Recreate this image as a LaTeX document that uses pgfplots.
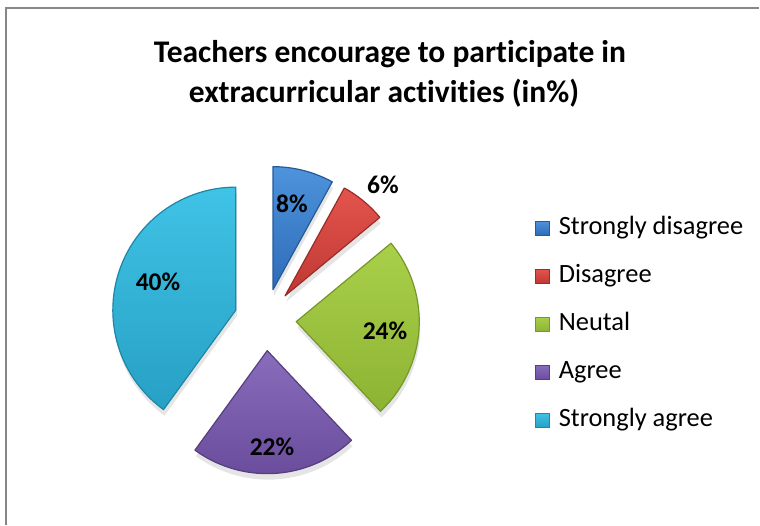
\documentclass[border=0pt]{standalone}
\usepackage{fontspec}
\setmainfont{Carlito}[Ligatures=NoCommon]
\usepackage{pgfplots}
\pgfplotsset{compat=1.18}
\definecolor{sdL}{HTML}{4E93DC}\definecolor{sdD}{HTML}{2E6BB8}\definecolor{sdE}{HTML}{245A9A}
\definecolor{dL}{HTML}{E4544E}\definecolor{dD}{HTML}{BF3833}\definecolor{dE}{HTML}{9B2C28}
\definecolor{nL}{HTML}{A9D04A}\definecolor{nD}{HTML}{8DB333}\definecolor{nE}{HTML}{76972A}
\definecolor{aL}{HTML}{8A6CBD}\definecolor{aD}{HTML}{6A4D9C}\definecolor{aE}{HTML}{553F7E}
\definecolor{saL}{HTML}{3FC3E6}\definecolor{saD}{HTML}{27A0C4}\definecolor{saE}{HTML}{1E86A6}
% \slice{cumulative percent before}{percent}{color prefix}
\newcommand\slice[3]{%
  \pgfmathsetmacro\aS{90-3.6*#1}%
  \pgfmathsetmacro\aE{90-3.6*(#1+#2)}%
  \pgfmathsetmacro\aM{(\aS+\aE)/2}%
  \pgfmathsetmacro\cx{265.3+31*cos(\aM)}%
  \pgfmathsetmacro\cy{205.3+31*sin(\aM)}%
  \pgfmathsetmacro\sx{\cx+1}%
  \pgfmathsetmacro\sy{\cy-6}%
  \edef\tmp{\noexpand\addplot[forget plot, draw=none, fill=black, fill opacity=0.10, domain=\aE:\aS, samples=60]
    ({\sx+123*cos(x)},{\sy+123*sin(x)}) -- (axis cs:\sx,\sy) -- cycle;
    \noexpand\addplot[top color=#3L, bottom color=#3D, draw=#3E, line width=1.2pt, line join=round, domain=\aE:\aS, samples=60]
    ({\cx+123*cos(x)},{\cy+123*sin(x)}) -- (axis cs:\cx,\cy) -- cycle;}%
  \tmp
}
\begin{document}
\begin{tikzpicture}
\begin{axis}[
  name=ax,
  width=760pt, height=525pt, scale only axis,
  xmin=0, xmax=760, ymin=0, ymax=525,
  hide axis, clip=false,
  legend style={at={(axis cs:535,309)}, anchor=north west, draw=none, fill=none,
    inner sep=0pt, row sep=24pt,
    nodes={inner sep=0pt, text height=18pt, text depth=6pt, font=\fontsize{26.4}{30}\selectfont}},
  legend cell align=left,
  legend image code/.code={\draw[#1, line width=0.6pt] (0pt,-7pt) rectangle (14pt,7pt);},
  /tikz/every odd column/.append style={column sep=9pt},
]
\draw[color=black!47, line width=1.5pt] (axis cs:6,0) -- (axis cs:6,517) -- (axis cs:759,517);
\slice{0}{8}{sd}
\slice{8}{6}{d}
\slice{14}{24}{n}
\slice{38}{22}{a}
\slice{60}{40}{sa}
\legend{Strongly disagree, Disagree, Neutal, Agree, Strongly agree}
\node[font=\bfseries\fontsize{31.5}{40}\selectfont] at (axis cs:390,471) {Teachers encourage to participate in};
\node[font=\bfseries\fontsize{31.5}{40}\selectfont] at (axis cs:384,432) {extracurricular activities (in\%)};
\begin{scope}[every node/.style={font=\bfseries\fontsize{25.5}{30}\selectfont}]
\node at (axis cs:292,321) {8\%};
\node at (axis cs:383,340) {6\%};
\node at (axis cs:385,194) {24\%};
\node at (axis cs:272,78) {22\%};
\node at (axis cs:158,243) {40\%};
\end{scope}
\end{axis}
\pgfresetboundingbox
\path (ax.south west) rectangle (ax.north east);
\end{tikzpicture}
\end{document}
